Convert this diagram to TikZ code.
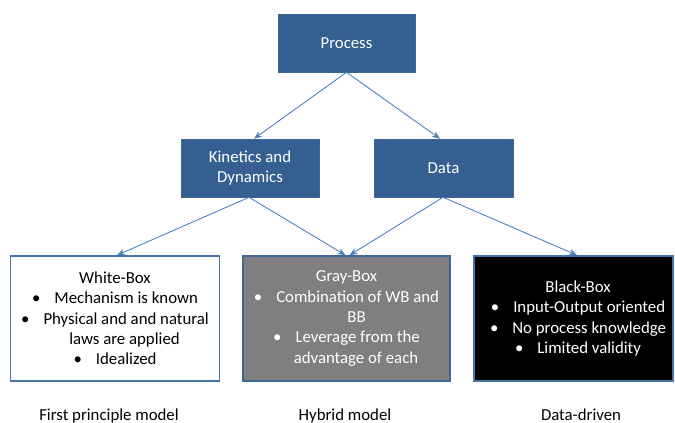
\documentclass[tikz,border=0pt]{standalone}
\usepackage{fontspec}
\setmainfont{Carlito}
\usetikzlibrary{arrows.meta}
\definecolor{boxblue}{HTML}{355F91}
\definecolor{boxedge}{HTML}{3D6799}
\definecolor{arrowblue}{HTML}{4F81BD}
\definecolor{edgeblue}{HTML}{4673AA}
\definecolor{grayfill}{HTML}{7F7F7F}
\newcommand{\bul}{\textbullet\hspace{14pt}}
\tikzset{
  txt/.style={font=\fontsize{16.8}{20.3}\selectfont, align=center, inner sep=0pt},
  topbox/.style={txt, fill=boxblue, draw=boxedge, line width=0.6pt, text=white, minimum height=58pt},
  bigbox/.style={txt, draw=edgeblue, line width=1.6pt, minimum height=125pt},
  conn/.style={draw=arrowblue, line width=0.9pt, -{Stealth[length=8pt,width=6.5pt,inset=2.5pt]}},
  lbl/.style={font=\fontsize{16.8}{20.3}\selectfont, inner sep=0pt, anchor=base}
}
\begin{document}
\begin{tikzpicture}[x=1pt,y=-1pt]
\useasboundingbox (0,0) rectangle (675,423);
\node[topbox, minimum width=137pt] (process) at (346.5,43) {Process};
\node[topbox, minimum width=138pt] (kin) at (250,168) {Kinetics and\\Dynamics};
\node[topbox, minimum width=139pt] (data) at (443.5,168) {Data};

\node[bigbox, minimum width=209pt, fill=white, text=black] (white) at (115,318.5)
  {White-Box\\\bul Mechanism is known\\\bul Physical and and natural\\\hspace*{19pt}laws are applied\\\bul Idealized};
\node[bigbox, minimum width=207pt, fill=grayfill, draw=boxedge, text=white] (gray) at (346.5,318.5)
  {Gray-Box\\\bul Combination of WB and\\\hspace*{20pt}BB\\\bul Leverage from the\\\hspace*{19pt}advantage of each};
\node[bigbox, minimum width=199pt, fill=black, draw=edgeblue, text=white] (black) at (573.5,318.5)
  {\hspace*{9pt}Black-Box\\\hspace*{9pt}\bul Input-Output oriented\\\hspace*{9pt}\bul No process knowledge\\\hspace*{9pt}\bul Limited validity};

\draw[conn] (process.south) -- ([xshift=4pt]kin.north);
\draw[conn] (process.south) -- ([xshift=-3.5pt]data.north);
\draw[conn] ([xshift=-1pt]kin.south) -- ([xshift=2pt]white.north);
\draw[conn] ([xshift=-1pt]kin.south) -- ([xshift=-1pt]gray.north);
\draw[conn] ([xshift=-0.5pt]data.south) -- ([xshift=3pt]gray.north);
\draw[conn] ([xshift=-0.5pt]data.south) -- ([xshift=3.5pt]black.north);

\node[lbl] (l1) at (109,420) {First principle model};
\node[lbl] (l2) at (345,420) {Hybrid model};
\node[lbl] (l3) at (581,420) {Data-driven};
\end{tikzpicture}
\end{document}
